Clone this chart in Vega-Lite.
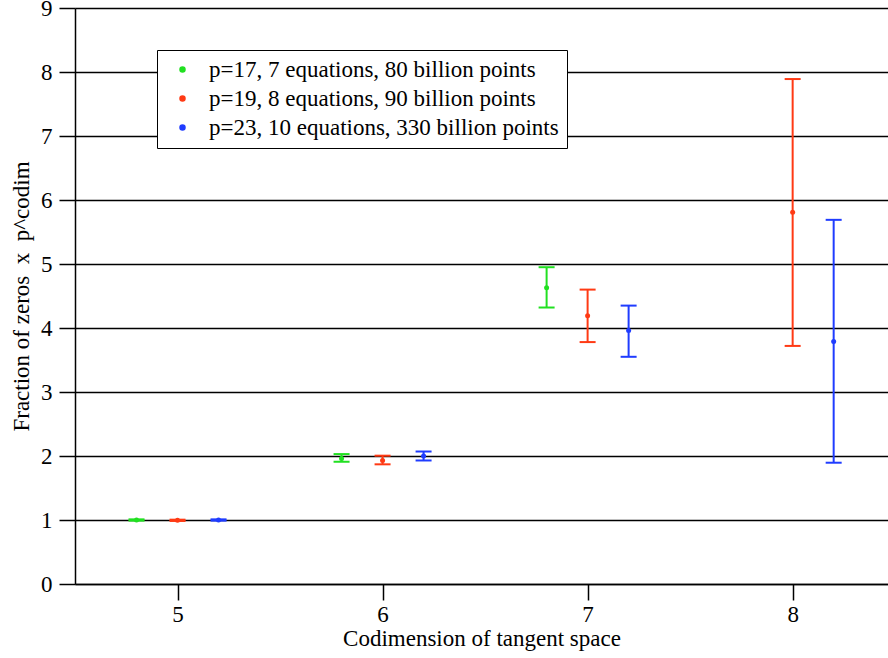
{
  "$schema": "https://vega.github.io/schema/vega-lite/v6.json",
  "width": 813,
  "height": 576,
  "autosize": {"type": "none"},
  "padding": {"left": 75, "top": 8, "right": 0, "bottom": 74},
  "background": "white",
  "config": {
    "view": {"stroke": null},
    "font": "'Liberation Serif', 'Times New Roman', Times, serif",
    "style": {
      "guide-label": {"font": "'Liberation Serif', 'Times New Roman', Times, serif", "fill": "black"},
      "guide-title": {"font": "'Liberation Serif', 'Times New Roman', Times, serif", "fill": "black"}
    },
    "axis": {"labelFont": "'Liberation Serif', 'Times New Roman', Times, serif", "titleFont": "'Liberation Serif', 'Times New Roman', Times, serif"},
    "legend": {"labelFont": "'Liberation Serif', 'Times New Roman', Times, serif"}
  },
  "data": {
    "values": [
      {"series": "p=17, 7 equations, 80 billion points", "x": 4.8, "y": 1.0, "lo": 0.99, "hi": 1.01},
      {"series": "p=17, 7 equations, 80 billion points", "x": 5.8, "y": 1.96, "lo": 1.91, "hi": 2.03},
      {"series": "p=17, 7 equations, 80 billion points", "x": 6.8, "y": 4.63, "lo": 4.32, "hi": 4.95},
      {"series": "p=19, 8 equations, 90 billion points", "x": 5.0, "y": 0.995, "lo": 0.985, "hi": 1.005},
      {"series": "p=19, 8 equations, 90 billion points", "x": 6.0, "y": 1.93, "lo": 1.87, "hi": 2.005},
      {"series": "p=19, 8 equations, 90 billion points", "x": 7.0, "y": 4.19, "lo": 3.78, "hi": 4.6},
      {"series": "p=19, 8 equations, 90 billion points", "x": 8.0, "y": 5.81, "lo": 3.72, "hi": 7.89},
      {"series": "p=23, 10 equations, 330 billion points", "x": 5.2, "y": 1.0, "lo": 0.99, "hi": 1.01},
      {"series": "p=23, 10 equations, 330 billion points", "x": 6.2, "y": 2.0, "lo": 1.93, "hi": 2.07},
      {"series": "p=23, 10 equations, 330 billion points", "x": 7.2, "y": 3.96, "lo": 3.55, "hi": 4.35},
      {"series": "p=23, 10 equations, 330 billion points", "x": 8.2, "y": 3.79, "lo": 1.895, "hi": 5.69}
    ]
  },
  "encoding": {
    "x": {
      "field": "x",
      "type": "quantitative",
      "scale": {"domain": [4.5, 8.465], "nice": false, "zero": false},
      "axis": {
        "values": [5, 6, 7, 8],
        "format": "d",
        "grid": false,
        "tickSize": 16,
        "tickColor": "black",
        "tickWidth": 1.5,
        "domainColor": "black",
        "domainWidth": 1.5,
        "labelFontSize": 23,
        "labelColor": "black",
        "labelPadding": 3,
        "title": "Codimension of tangent space",
        "titleFontSize": 23,
        "titleFontWeight": "normal",
        "titleColor": "black",
        "titlePadding": 1
      }
    },
    "color": {
      "field": "series",
      "type": "nominal",
      "scale": {
        "domain": ["p=17, 7 equations, 80 billion points", "p=19, 8 equations, 90 billion points", "p=23, 10 equations, 330 billion points"],
        "range": ["#21e021", "#ff3a14", "#1f3cff"]
      },
      "legend": {
        "title": null,
        "orient": "none",
        "legendX": 82,
        "legendY": 42,
        "strokeColor": "black",
        "fillColor": "white",
        "padding": 8,
        "symbolOffset": 6,
        "labelOffset": 15,
        "symbolType": "circle",
        "symbolSize": 25,
        "labelFontSize": 23,
        "labelColor": "black",
        "labelLimit": 500,
        "rowPadding": 5
      }
    }
  },
  "layer": [
    {
      "mark": {"type": "rule", "strokeWidth": 2},
      "encoding": {
        "y": {
          "field": "lo",
          "type": "quantitative",
          "scale": {"domain": [0, 9], "nice": false},
          "axis": {
            "values": [0, 1, 2, 3, 4, 5, 6, 7, 8, 9],
            "format": "d",
            "grid": true,
            "gridColor": "black",
            "gridWidth": 1.5,
            "gridOpacity": 1,
            "tickSize": 16,
            "tickColor": "black",
            "tickWidth": 1.5,
            "domainColor": "black",
            "domainWidth": 1.5,
            "labelFontSize": 23,
            "labelColor": "black",
            "labelPadding": 7,
            "title": "Fraction of zeros \u00a0x\u00a0 p^codim",
            "titleFontSize": 23,
            "titleFontWeight": "normal",
            "titleColor": "black",
            "titlePadding": 7
          }
        },
        "y2": {"field": "hi"}
      }
    },
    {
      "mark": {"type": "tick", "orient": "horizontal", "size": 16, "thickness": 2, "opacity": 1},
      "encoding": {"y": {"field": "lo", "type": "quantitative"}}
    },
    {
      "mark": {"type": "tick", "orient": "horizontal", "size": 16, "thickness": 2, "opacity": 1},
      "encoding": {"y": {"field": "hi", "type": "quantitative"}}
    },
    {
      "mark": {"type": "point", "filled": true, "size": 25, "opacity": 1},
      "encoding": {"y": {"field": "y", "type": "quantitative"}}
    }
  ]
}
